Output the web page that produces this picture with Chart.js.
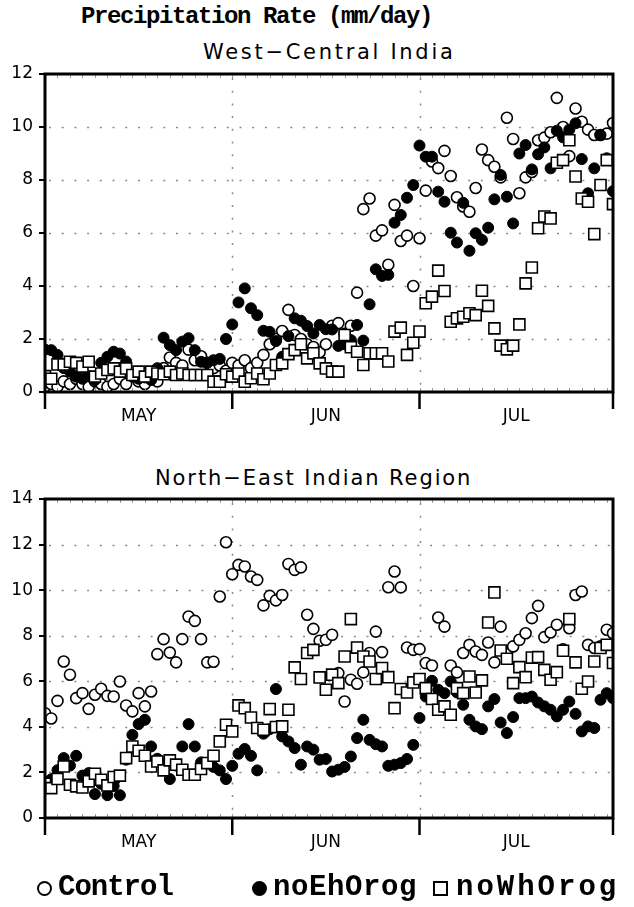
<!DOCTYPE html>
<html><head><meta charset="utf-8">
<script src="https://cdn.jsdelivr.net/npm/chart.js@4"></script>
<style>
html,body{margin:0;padding:0;background:#fff;}
body{width:634px;height:907px;position:relative;overflow:hidden;font-family:"DejaVu Sans",sans-serif;color:#000;}
.abs{position:absolute;white-space:nowrap;}
#title{left:81px;top:3px;font:bold 24px "Liberation Mono",monospace;letter-spacing:-1.4px;}
.sub{font:21px "DejaVu Sans",sans-serif;}
#sub1{left:203px;top:40px;letter-spacing:2.7px;}
#sub2{left:155px;top:466px;letter-spacing:1.9px;}
#c1{left:0;top:0;}
#c2{left:0;top:440px;}
.leg{font:bold 29px "Liberation Mono",monospace;top:871px;}
.sym{position:absolute;top:881px;width:15px;height:15px;box-sizing:border-box;border:2px solid #000;background:#fff;}
</style></head>
<body>
<div id="title" class="abs">Precipitation Rate (mm/day)</div>
<div id="sub1" class="abs sub">West−Central India</div>
<div id="sub2" class="abs sub">North−East Indian Region</div>
<canvas id="c1" class="abs" width="634" height="440"></canvas>
<canvas id="c2" class="abs" width="634" height="467"></canvas>
<div class="sym" style="left:37px;border-radius:50%;"></div>
<div class="abs leg" style="left:58px;letter-spacing:-1px;">Control</div>
<div class="sym" style="left:252px;border-radius:50%;background:#000;"></div>
<div class="abs leg" style="left:273px;letter-spacing:0.6px;">noEhOrog</div>
<div class="sym" style="left:433px;"></div>
<div class="abs leg" style="left:456px;letter-spacing:3px;">noWhOrog</div>
<script>
// day index: 1 = first plotted day (early May) ... 92 = end of July
const days = Array.from({length: 92}, (_, i) => i + 1);
const monthLabels = ["MAY", "JUN", "JUL"];
const monthCenters = [16, 46, 76.5];
const monthStarts = [31, 61];
const seriesNames = ["Control", "noEhOrog", "noWhOrog"];

// West-Central India (mm/day)
const wcControl = [0.2,0.3,0.2,0.4,0.3,0.5,0.3,0.2,0.4,0.3,0.2,0.3,0.5,0.3,0.6,0.4,0.3,0.5,0.4,0.9,
  1.3,1.1,1.0,1.6,1.2,1.35,1.1,0.9,1.0,0.8,1.1,1.0,1.2,0.9,1.1,1.4,1.8,2.0,2.3,3.1,
  2.15,2.0,1.8,1.7,1.5,1.8,2.5,2.6,2.2,2.5,3.75,6.9,7.3,5.9,6.1,4.8,7.06,5.7,5.9,4.0,
  5.8,7.6,8.7,8.45,9.1,8.15,7.35,7.0,6.8,7.7,9.15,8.75,8.5,8.1,10.35,9.55,7.5,8.1,8.3,9.5,
  9.6,9.8,11.1,10.0,8.9,10.7,10.2,9.9,9.7,9.7,9.75,10.15];
const wcNoEh = [1.6,1.58,1.4,0.9,0.77,0.58,0.5,0.6,0.45,1.1,1.33,1.52,1.45,1.15,0.6,0.5,0.55,0.45,0.9,2.05,
  1.77,1.58,1.9,2.03,1.58,1.14,1.1,1.2,1.25,2.0,2.55,3.38,3.91,3.16,2.9,2.31,2.27,1.92,1.33,2.11,
  2.78,2.69,2.49,2.21,2.53,2.37,2.36,1.74,1.8,1.96,2.53,1.94,3.31,4.63,4.38,4.42,6.39,6.68,7.33,7.81,
  9.3,8.88,8.88,7.56,7.18,6.01,5.64,7.14,5.33,5.99,5.74,6.2,7.27,8.19,7.37,6.36,9.0,9.32,8.4,8.97,
  9.23,8.44,9.86,9.61,9.9,10.14,8.79,7.5,8.44,9.7,8.82,7.58];
const wcNoWh = [0.6,0.5,1.04,1.04,1.14,1.1,0.96,1.14,0.58,0.7,0.83,0.89,0.77,0.89,0.64,0.77,0.58,0.77,0.7,0.67,
  0.77,0.64,0.7,0.64,0.64,0.64,0.64,0.39,0.39,0.67,0.58,0.7,0.39,0.52,0.7,0.48,0.7,1.02,1.08,1.43,
  1.58,1.8,1.27,1.46,1.08,0.89,0.77,0.77,2.15,1.69,1.52,1.02,1.46,1.46,1.46,1.15,2.28,2.43,1.4,1.86,
  2.28,3.35,3.6,4.58,3.81,2.65,2.78,2.84,2.97,2.9,3.82,3.25,2.4,1.75,1.61,1.75,2.55,4.1,4.7,6.18,
  6.62,6.55,8.65,8.75,9.5,8.13,7.3,7.18,5.96,7.81,8.75,7.09];

// North-East Indian Region (mm/day)
const neControl = [4.6,4.37,5.14,6.87,6.29,5.26,5.48,4.79,5.41,5.67,5.36,5.33,5.99,4.94,4.68,5.48,4.9,5.55,7.19,7.85,
  7.26,6.83,7.85,8.84,8.65,7.85,6.83,6.86,9.72,12.1,10.7,11.11,11.04,10.6,10.45,9.33,9.75,9.55,9.79,11.15,
  10.89,11.0,8.92,8.3,7.78,7.82,8.04,6.36,5.11,6.07,5.89,6.39,7.24,8.18,7.28,10.13,10.82,10.12,7.48,7.38,
  7.41,6.8,6.69,8.8,8.4,6.69,6.39,7.24,7.6,7.31,7.16,7.7,6.83,8.4,7.2,7.53,7.82,8.11,8.77,9.31,
  7.94,8.14,8.48,7.4,8.33,9.79,9.94,7.6,7.46,7.53,8.26,8.11];
const neNoEh = [1.6,1.7,2.1,2.63,2.3,2.73,1.86,1.97,1.05,1.5,1.0,1.4,1.0,2.56,3.65,4.12,4.31,3.14,2.6,2.4,
  1.71,2.3,3.14,4.12,3.14,2.44,2.4,2.24,2.09,1.71,2.29,2.82,3.03,2.73,2.09,3.7,3.9,5.66,3.58,3.36,
  3.07,2.34,3.14,3.0,2.56,2.59,2.04,2.12,2.24,2.7,3.51,4.31,3.43,3.24,3.14,2.29,2.34,2.41,2.59,3.21,
  4.39,5.33,6.02,5.63,5.48,5.99,5.51,4.97,4.31,4.02,3.9,4.9,5.22,4.19,3.73,4.43,5.26,5.26,5.33,5.07,
  4.9,4.75,4.46,4.75,5.11,4.57,3.8,4.02,3.95,5.19,5.48,5.26];
const neNoWh = [1.5,1.31,1.71,2.26,1.46,1.39,1.34,1.61,1.94,1.68,1.43,1.8,1.86,2.63,3.14,2.95,2.73,2.26,2.48,2.09,
  2.53,2.34,2.12,1.9,1.9,2.15,2.41,2.73,3.36,4.09,3.8,4.94,4.82,4.41,3.95,3.87,4.78,3.99,4.02,4.75,
  6.61,6.1,7.24,7.38,6.17,5.63,6.29,5.92,7.09,8.73,7.48,7.09,6.87,6.1,6.58,6.18,4.82,5.66,5.51,5.95,
  6.1,5.7,5.22,4.75,4.9,4.53,5.7,5.48,6.21,5.51,6.04,8.58,9.9,7.35,6.99,5.92,6.62,6.18,7.04,7.06,
  6.5,6.07,6.4,7.34,8.73,6.83,5.67,5.99,6.87,7.46,7.6,6.8];

const toXY = vals => vals.map((v, i) => ({x: days[i], y: v}));

const framePlugin = {
  id: 'frame',
  beforeDatasetsDraw(chart) {
    const {ctx, chartArea: a, scales: {x, y}} = chart;
    ctx.save();
    ctx.strokeStyle = '#8a8a8a';
    ctx.lineWidth = 1.5;
    ctx.setLineDash([2, 10.7]);
    y.ticks.forEach(t => {
      if (t.value > y.min && t.value < y.max) {
        const py = Math.round(y.getPixelForValue(t.value)) + 0.5;
        ctx.beginPath(); ctx.moveTo(a.left + 4, py); ctx.lineTo(a.right, py); ctx.stroke();
      }
    });
    monthStarts.forEach(v => {
      const px = Math.round(x.getPixelForValue(v)) + 0.5;
      ctx.beginPath(); ctx.moveTo(px, a.top + 4); ctx.lineTo(px, a.bottom); ctx.stroke();
    });
    ctx.restore();
  },
  afterDatasetsDraw(chart) {
    const {ctx, chartArea: a, scales: {x}} = chart;
    ctx.save();
    // small minor tick marks on the frame, every two days
    ctx.strokeStyle = '#9a9a9a';
    ctx.lineWidth = 1;
    for (let v = x.min; v <= x.max; v += 2) {
      const px = Math.round(x.getPixelForValue(v)) + 0.5;
      ctx.beginPath(); ctx.moveTo(px, a.top + 1); ctx.lineTo(px, a.top + 4); ctx.stroke();
      ctx.beginPath(); ctx.moveTo(px, a.bottom - 4); ctx.lineTo(px, a.bottom - 1); ctx.stroke();
    }
    ctx.strokeStyle = '#000';
    ctx.lineWidth = 3;
    ctx.strokeRect(a.left, a.top, a.right - a.left, a.bottom - a.top);
    ctx.lineWidth = 2.5;
    [x.min, ...monthStarts, x.max].forEach(v => {
      const px = x.getPixelForValue(v);
      ctx.beginPath(); ctx.moveTo(px, a.bottom); ctx.lineTo(px, a.bottom + 17); ctx.stroke();
    });
    ctx.restore();
  }
};

function makeChart(id, yMax, ctrl, noEh, noWh, padTop, padBottom) {
  return new Chart(document.getElementById(id), {
    type: 'scatter',
    data: {
      datasets: [
        {label: seriesNames[0], data: toXY(ctrl), order: 3, pointStyle: 'circle', pointRadius: 5.5,
         borderColor: '#000', backgroundColor: '#fff', borderWidth: 1.6, clip: 0},
        {label: seriesNames[1], data: toXY(noEh), order: 2, pointStyle: 'circle', pointRadius: 5.5,
         borderColor: '#000', backgroundColor: '#000', borderWidth: 1, clip: 0},
        {label: seriesNames[2], data: toXY(noWh), order: 1, pointStyle: 'rect', pointRadius: 7.8,
         borderColor: '#000', backgroundColor: '#fff', borderWidth: 1.6, clip: 0}
      ]
    },
    options: {
      responsive: false, animation: false, devicePixelRatio: 1,
      layout: {padding: {top: padTop, right: 21, left: 0, bottom: padBottom}},
      plugins: {legend: {display: false}, tooltip: {enabled: false}, title: {display: false}},
      scales: {
        x: {
          type: 'linear', min: 1, max: 92,
          grid: {display: false, drawTicks: false},
          border: {display: false},
          afterBuildTicks: s => { s.ticks = monthCenters.map(v => ({value: v})); },
          afterFit: s => { s.height = 48; },
          ticks: {autoSkip: false, maxRotation: 0, padding: 14, color: '#000',
                  font: {size: 17, family: 'DejaVu Sans'},
                  callback: (v, i) => monthLabels[i]}
        },
        y: {
          min: 0, max: yMax,
          afterFit: s => { s.width = 45; },
          border: {display: false},
          grid: {drawOnChartArea: false, drawTicks: true, tickLength: 6, color: '#000', lineWidth: 2},
          ticks: {stepSize: 2, color: '#000', padding: 6, font: {size: 17, family: 'DejaVu Sans'}}
        }
      }
    },
    plugins: [framePlugin]
  });
}

makeChart('c1', 12, wcControl, wcNoEh, wcNoWh, 74, 0);
makeChart('c2', 14, neControl, neNoEh, neNoWh, 59, 41);
</script>
</body></html>
